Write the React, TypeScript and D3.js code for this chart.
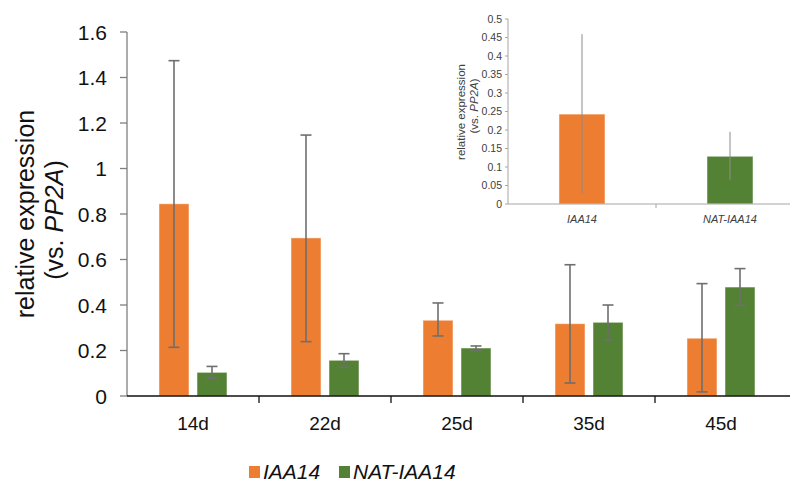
import React from "react";
import * as d3 from "d3";

const width = 790;
const height = 483;
const font = "'Liberation Sans', Arial, sans-serif";

// main chart data
const days = ["14d", "22d", "25d", "35d", "45d"];
const seriesNames = ["IAA14", "NAT-IAA14"];
const iaa14 = [0.845, 0.695, 0.333, 0.318, 0.254];
const iaa14Lo = [0.214, 0.239, 0.264, 0.057, 0.018];
const iaa14Hi = [1.474, 1.147, 0.409, 0.577, 0.494];
const nat = [0.104, 0.157, 0.211, 0.324, 0.479];
const natLo = [0.078, 0.126, 0.199, 0.247, 0.399];
const natHi = [0.13, 0.186, 0.22, 0.4, 0.56];
const yTicks = [0, 0.2, 0.4, 0.6, 0.8, 1, 1.2, 1.4, 1.6];

// inset data
const insetCats = ["IAA14", "NAT-IAA14"];
const insetVals = [0.243, 0.129];
const insetLo = [0.029, 0.065];
const insetHi = [0.459, 0.195];
const insetTicks = [0, 0.05, 0.1, 0.15, 0.2, 0.25, 0.3, 0.35, 0.4, 0.45, 0.5];

const colors = ["#ED7D31", "#548235"];

const x = d3.scaleBand().domain(days).range([127, 787]);
const xSub = d3
  .scaleBand()
  .domain(seriesNames)
  .range([0, x.bandwidth()])
  .paddingInner(8 / 38)
  .paddingOuter(0.842);
const y = d3.scaleLinear().domain([0, 1.6]).range([396, 32]);

const xi = d3
  .scaleBand()
  .domain(insetCats)
  .range([508, 804])
  .paddingInner(0.689)
  .paddingOuter(0.689 / 2);
const yi = d3.scaleLinear().domain([0, 0.5]).range([204, 19]);

const rows = days.map((d, i) => ({
  day: d,
  bars: [
    { s: seriesNames[0], v: iaa14[i], lo: iaa14Lo[i], hi: iaa14Hi[i], c: colors[0] },
    { s: seriesNames[1], v: nat[i], lo: natLo[i], hi: natHi[i], c: colors[1] },
  ],
}));

const App = () => {
  const fmt = (v: number) => d3.format("")(+v.toFixed(2));
  return (
    <svg
      width={width}
      height={height}
      style={{ position: "absolute", left: 0, top: 0, background: "#fff" }}
      fontFamily={font}
    >
      {/* main y axis */}
      <line x1={127} x2={127} y1={y(1.6)} y2={y(0)} stroke="#7f7f7f" strokeWidth={1.3} />
      {yTicks.map((t) => (
        <g key={t}>
          <line x1={120} x2={127} y1={y(t)} y2={y(t)} stroke="#7f7f7f" strokeWidth={1.3} />
          <text x={107} y={y(t)} dy="0.36em" textAnchor="end" fontSize={21} fill="#111">
            {fmt(t)}
          </text>
        </g>
      ))}
      <text transform="translate(34,214) rotate(-90)" textAnchor="middle" fontSize={25} fill="#111">
        relative expression
      </text>
      <text transform="translate(63,220) rotate(-90)" textAnchor="middle" fontSize={25} fill="#111">
        (vs. <tspan fontStyle="italic">PP2A</tspan>)
      </text>

      {/* bars */}
      {rows.map((r) => (
        <g key={r.day} transform={`translate(${x(r.day)},0)`}>
          {r.bars.map((b) => {
            const bx = xSub(b.s)!;
            const cx = bx + xSub.bandwidth() / 2;
            return (
              <g key={b.s}>
                <rect
                  x={bx}
                  y={y(b.v)}
                  width={xSub.bandwidth()}
                  height={y(0) - y(b.v)}
                  fill={b.c}
                  stroke="#fff"
                  strokeOpacity={0.5}
                />
                <line x1={cx} x2={cx} y1={y(b.hi)} y2={y(b.lo)} stroke="#6f6f6f" strokeWidth={1.6} />
                <line x1={cx - 5.5} x2={cx + 5.5} y1={y(b.hi)} y2={y(b.hi)} stroke="#6f6f6f" strokeWidth={1.6} />
                <line x1={cx - 5.5} x2={cx + 5.5} y1={y(b.lo)} y2={y(b.lo)} stroke="#6f6f6f" strokeWidth={1.6} />
              </g>
            );
          })}
          <text x={x.bandwidth() / 2} y={430} textAnchor="middle" fontSize={19} fill="#111">
            {r.day}
          </text>
        </g>
      ))}

      {/* main x axis */}
      <line x1={127} x2={790} y1={y(0)} y2={y(0)} stroke="#111" strokeWidth={1.3} />
      {days.slice(1).map((d) => (
        <line key={d} x1={x(d)} x2={x(d)} y1={y(0)} y2={y(0) + 7} stroke="#111" strokeWidth={1.3} />
      ))}

      {/* legend */}
      {seriesNames.map((s, i) => {
        const lx = [249, 339][i];
        return (
          <g key={s}>
            <rect x={lx} y={466} width={11} height={12} fill={colors[i]} />
            <text x={lx + 14} y={479} fontSize={21} fontStyle="italic" fill="#111">
              {s}
            </text>
          </g>
        );
      })}

      {/* inset */}
      <line x1={508} x2={508} y1={yi(0.5)} y2={yi(0)} stroke="#a6a6a6" />
      {insetTicks.map((t) => (
        <g key={t}>
          <line x1={505} x2={508} y1={yi(t)} y2={yi(t)} stroke="#a6a6a6" />
          <text x={502} y={yi(t)} dy="0.35em" textAnchor="end" fontSize={10.5} fill="#404040">
            {fmt(t)}
          </text>
        </g>
      ))}
      <text transform="translate(465,112) rotate(-90)" textAnchor="middle" fontSize={11.5} fill="#404040">
        relative expression
      </text>
      <text transform="translate(478,106) rotate(-90)" textAnchor="middle" fontSize={11.5} fill="#404040">
        (vs. <tspan fontStyle="italic">PP2A</tspan>)
      </text>
      {insetCats.map((c, i) => {
        const cx = xi(c)! + xi.bandwidth() / 2;
        return (
          <g key={c}>
            <rect
              x={xi(c)}
              y={yi(insetVals[i])}
              width={xi.bandwidth()}
              height={yi(0) - yi(insetVals[i])}
              fill={colors[i]}
              stroke="#fff"
              strokeOpacity={0.5}
            />
            <line x1={cx} x2={cx} y1={yi(insetHi[i])} y2={yi(insetLo[i])} stroke="#8c8c8c" strokeWidth={1} />
            <text x={cx} y={223} textAnchor="middle" fontSize={11} fontStyle="italic" fill="#404040">
              {c}
            </text>
          </g>
        );
      })}
      <line x1={508} x2={790} y1={yi(0)} y2={yi(0)} stroke="#a6a6a6" />
      <line x1={xi.step() + 508} x2={xi.step() + 508} y1={yi(0)} y2={yi(0) + 4} stroke="#a6a6a6" />
    </svg>
  );
};

export default App;
